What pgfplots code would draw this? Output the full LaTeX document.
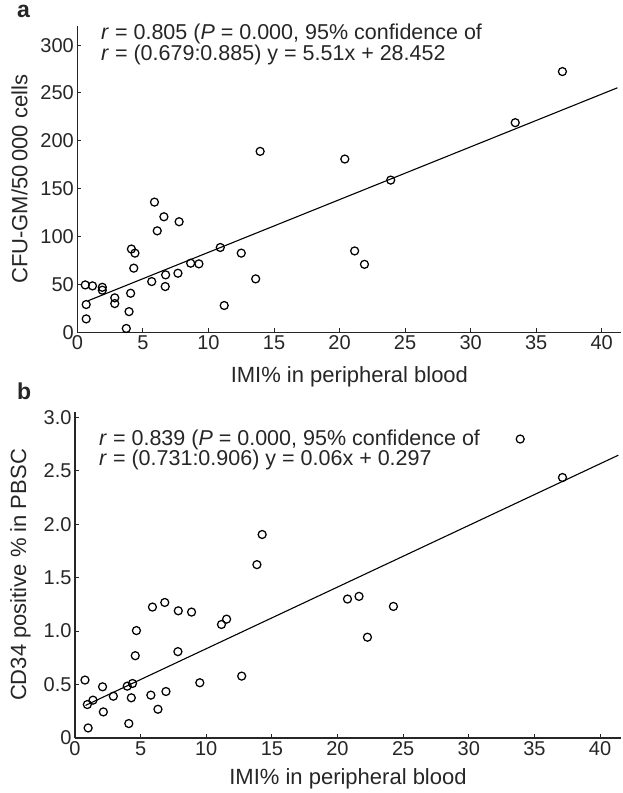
\documentclass[border=0pt]{standalone}
\usepackage{fontspec}
\setmainfont{Liberation Sans}
\usepackage{pgfplots}
\pgfplotsset{compat=1.18}

\pgfplotsset{
  imi/.style={
    scale only axis,
    axis lines*=left,
    axis line style={line width=1.1pt, black!85},
    tick align=inside,
    major tick length=4pt,
    tick style={line width=1pt, black!85},
    xmin=0, xmax=41.5,
    xtick={0,5,...,40},
    ymin=0,
    /pgf/number format/assume math mode=true,
    tick label style={font=\fontsize{20}{20}\selectfont, black!85},
    label style={font=\fontsize{22}{24}\selectfont, black!85},
    xlabel={IMI\% in peripheral blood},
    clip=false,
  },
  pts/.style={only marks, mark=o, mark size=4pt, black,
    mark options={line width=1.25pt}},
  fit/.style={no marks, line width=1.1pt, black},
}

\begin{document}
\begin{tikzpicture}
% panel a
\begin{axis}[imi,
  at={(77.4pt,460.7pt)}, anchor=south west,
  width=544pt, height=306.3pt,
  ymax=320,
  ytick={0,50,...,300},
  ylabel={CFU-GM/50\,000 cells},
  xlabel shift=10pt,
  ylabel shift=6pt,
]
\addplot[pts] coordinates {
(0.6,49.5) (1.15,48.5) (1.9,47) (1.9,44) (0.67,29) (0.67,14)
(2.85,36) (2.85,30) (3.73,4) (3.94,21.6) (4.06,40.8) (4.12,87)
(4.39,82.7) (4.3,67) (5.88,136) (6.09,106) (6.6,120.7) (7.76,115.5)
(5.67,53) (6.73,60) (6.7,47.8) (7.67,61.7) (8.64,72.2) (9.27,71.5)
(10.9,88.6) (11.2,28) (12.5,82.7) (13.6,55.8) (13.94,189) (20.4,181)
(21.15,85) (21.9,71) (23.9,159) (33.4,219) (37.0,272.4)
};
\addplot[fit] coordinates {(0.8,32.86) (41.2,255.46)};
\end{axis}

% panel b
\begin{axis}[imi,
  at={(75pt,55pt)}, anchor=south west,
  width=546pt, height=326pt,
  xmax=41.6,
  ymax=3.05,
  ytick={0,0.5,1,1.5,2,2.5,3},
  yticklabels={0,0.5,1.0,1.5,2.0,2.5,3.0},
  ylabel={CD34 positive \% in PBSC},
  xlabel shift=6pt,
  ylabel shift=6pt,
]
\addplot[pts] coordinates {
(0.76,0.542) (0.94,0.313) (1.0,0.094) (1.37,0.354) (2.1,0.479)
(2.16,0.244) (2.92,0.391) (3.98,0.485) (4.38,0.510) (4.29,0.376)
(4.1,0.135) (4.59,0.770) (4.68,1.005) (5.78,0.401) (5.9,1.225)
(6.32,0.269) (6.84,1.268) (6.93,0.435) (7.87,1.19) (7.84,0.808)
(8.88,1.178) (9.51,0.517) (11.16,1.062) (11.55,1.112) (12.7,0.579)
(13.86,1.622) (14.26,1.904) (20.76,1.30) (21.64,1.325) (22.28,0.943)
(24.26,1.231) (33.92,2.797) (37.14,2.437)
};
\addplot[fit] coordinates {(0.8,0.305) (41.4,2.646)};
\end{axis}

% panel letters and fit statistics
\begin{scope}[every node/.style={font=\fontsize{21.5}{24}\selectfont, text=black!85, inner sep=0pt}]
\node[anchor=base west, font=\fontsize{23}{24}\selectfont\bfseries] at (17pt,775pt) {a};
\node[anchor=base west] at (101pt,753.6pt) {\textit{r} = 0.805 (\textit{P} = 0.000, 95\% confidence of};
\node[anchor=base west] at (101pt,732.3pt) {\textit{r} = (0.679:0.885) y = 5.51x + 28.452};
\node[anchor=base west, font=\fontsize{23}{24}\selectfont\bfseries] at (17pt,393pt) {b};
\node[anchor=base west] at (99pt,347.3pt) {\textit{r} = 0.839 (\textit{P} = 0.000, 95\% confidence of};
\node[anchor=base west] at (99pt,327.3pt) {\textit{r} = (0.731:0.906) y = 0.06x + 0.297};
\end{scope}

\pgfresetboundingbox
\path[use as bounding box] (0pt,0pt) rectangle (623pt,793pt);
\end{tikzpicture}
\end{document}
